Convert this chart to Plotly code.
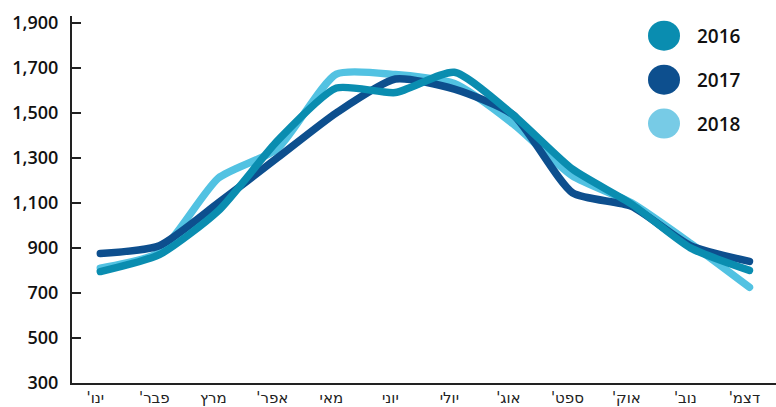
import plotly.graph_objects as go

months = ["ינו'", "פבר'", "מרץ", "אפר'", "מאי", "יוני", "יולי", "אוג'", "ספט'", "אוק'", "נוב'", "דצמ'"]
y2016 = [795, 870, 1065, 1375, 1610, 1590, 1680, 1490, 1250, 1095, 900, 800]
y2017 = [875, 910, 1100, 1300, 1500, 1650, 1605, 1490, 1145, 1085, 910, 840]
y2018 = [810, 880, 1210, 1340, 1672, 1670, 1630, 1450, 1220, 1100, 920, 725]
y_ticks = [300, 500, 700, 900, 1100, 1300, 1500, 1700, 1900]

colors = {"2016": "#0a8db0", "2017": "#0d4f8e", "2018": "#52c2e2"}
legend_colors = {"2016": "#0a8db0", "2017": "#0d4f8e", "2018": "#77cbe6"}
x = list(range(len(months)))

fig = go.Figure()
# 2018 drawn first, 2016 last (on top)
for name, vals in [("2018", y2018), ("2017", y2017), ("2016", y2016)]:
    fig.add_trace(go.Scatter(
        x=x, y=vals, name=name, mode="lines",
        line=dict(color=colors[name], width=7.5, shape="spline", smoothing=0.6),
        showlegend=False,
    ))

W, H = 776, 407
L, R, T, B = 72, 0, 16, 19
pw, ph = W - L - R, H - T - B

def px(xp):
    return (xp - L) / pw

def py(yp):
    return (H - B - yp) / ph

shapes = []
annotations = []
for i, name in enumerate(["2016", "2017", "2018"]):
    cy = 36 + i * 44.5
    shapes.append(dict(
        type="circle", xref="paper", yref="paper",
        xsizemode="pixel", ysizemode="pixel",
        xanchor=px(664), yanchor=py(cy),
        x0=-16, x1=16, y0=-15, y1=15,
        fillcolor=legend_colors[name], line=dict(width=0),
    ))
    annotations.append(dict(
        x=px(695), y=py(cy), xref="paper", yref="paper",
        text=name, showarrow=False, xanchor="left", yanchor="middle",
        font=dict(family="Open Sans", size=19, color="#111111", weight=600),
    ))

# right-to-left mark so the geresh stays at the visual end of the word
ticktext = [m + "\u200f" for m in months]

fig.update_layout(
    width=W, height=H,
    margin=dict(l=L, r=R, t=T, b=B),
    plot_bgcolor="white", paper_bgcolor="white",
    shapes=shapes, annotations=annotations,
    xaxis=dict(
        range=[-0.48, 11.45], tickvals=x, ticktext=ticktext,
        showgrid=False, zeroline=False, showline=True,
        linecolor="#222222", linewidth=2, ticks="",
        ticklabelshift=-5,
        tickfont=dict(family="DejaVu Sans", size=15, color="#222222"),
    ),
    yaxis=dict(
        range=[300, 1930], tickvals=y_ticks,
        ticktext=[f"{v:,}" for v in y_ticks],
        showgrid=False, zeroline=False, showline=True,
        linecolor="#222222", linewidth=2,
        ticks="inside", ticklen=9, tickwidth=2, tickcolor="#222222",
        ticklabelstandoff=8,
        tickfont=dict(family="Open Sans", size=18, color="#111111", weight=600),
    ),
)

fig.write_html(
    "out.html", config={"displayModeBar": False},
    post_script=(
        "document.body.style.margin='0';document.body.style.overflow='hidden';"
        "document.querySelectorAll('.js-line').forEach(function(p){"
        "p.style.strokeLinecap='round';p.style.strokeLinejoin='round';});"
    ),
)
